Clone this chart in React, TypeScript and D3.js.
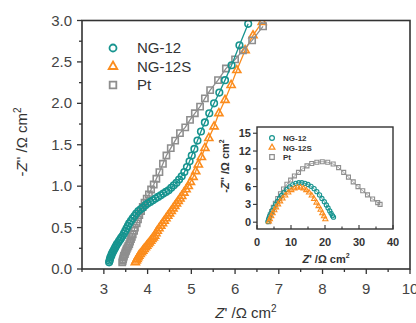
import React from 'react';
import * as d3 from 'd3';

// ---------- Main chart data ----------
const ng12X = [3.12, 3.13, 3.14, 3.15, 3.17, 3.18, 3.2, 3.22, 3.24, 3.26, 3.28, 3.3, 3.33, 3.35, 3.38, 3.4, 3.43, 3.46, 3.49, 3.52, 3.55, 3.58, 3.62, 3.66, 3.7, 3.74, 3.79, 3.84, 3.89, 3.95, 4.0, 4.06, 4.12, 4.18, 4.24, 4.3, 4.36, 4.42, 4.48, 4.54, 4.6, 4.66, 4.72, 4.78, 4.84, 4.9, 4.96, 5.01, 5.07, 5.14, 5.22, 5.31, 5.41, 5.52, 5.64, 5.77, 5.92, 6.1, 6.3];
const ng12Y = [0.08, 0.1, 0.12, 0.14, 0.16, 0.18, 0.2, 0.22, 0.24, 0.26, 0.28, 0.3, 0.32, 0.34, 0.36, 0.38, 0.4, 0.43, 0.46, 0.49, 0.52, 0.55, 0.58, 0.61, 0.64, 0.67, 0.7, 0.72, 0.74, 0.77, 0.79, 0.81, 0.83, 0.85, 0.87, 0.89, 0.91, 0.93, 0.95, 0.98, 1.01, 1.04, 1.08, 1.12, 1.17, 1.23, 1.3, 1.37, 1.45, 1.55, 1.66, 1.77, 1.88, 2.0, 2.13, 2.28, 2.46, 2.7, 2.96];

const ng12sX = [3.72, 3.74, 3.76, 3.78, 3.8, 3.83, 3.86, 3.89, 3.92, 3.95, 3.98, 4.01, 4.04, 4.07, 4.1, 4.13, 4.16, 4.19, 4.22, 4.26, 4.3, 4.34, 4.38, 4.42, 4.46, 4.5, 4.54, 4.58, 4.62, 4.66, 4.7, 4.74, 4.78, 4.83, 4.88, 4.93, 4.98, 5.04, 5.1, 5.16, 5.23, 5.31, 5.4, 5.52, 5.63, 5.77, 5.91, 6.04, 6.23, 6.41, 6.62];
const ng12sY = [0.08, 0.1, 0.12, 0.14, 0.16, 0.18, 0.2, 0.22, 0.24, 0.26, 0.28, 0.3, 0.32, 0.34, 0.36, 0.38, 0.4, 0.43, 0.46, 0.49, 0.52, 0.55, 0.58, 0.61, 0.64, 0.67, 0.7, 0.73, 0.76, 0.79, 0.82, 0.85, 0.88, 0.92, 0.96, 1.0, 1.05, 1.11, 1.18, 1.26, 1.35, 1.46, 1.58, 1.72, 1.88, 2.04, 2.22, 2.4, 2.64, 2.82, 2.98];

const ptX = [3.42, 3.43, 3.44, 3.45, 3.46, 3.48, 3.49, 3.51, 3.52, 3.54, 3.56, 3.58, 3.6, 3.62, 3.64, 3.66, 3.69, 3.71, 3.75, 3.78, 3.81, 3.85, 3.89, 3.93, 3.98, 4.03, 4.08, 4.14, 4.2, 4.27, 4.35, 4.43, 4.53, 4.63, 4.74, 4.86, 4.97, 5.08, 5.2, 5.31, 5.43, 5.61, 5.79, 6.0, 6.18, 6.39, 6.64];
const ptY = [0.08, 0.1, 0.12, 0.14, 0.16, 0.18, 0.2, 0.22, 0.24, 0.26, 0.28, 0.3, 0.33, 0.36, 0.39, 0.42, 0.46, 0.5, 0.55, 0.6, 0.65, 0.7, 0.75, 0.8, 0.85, 0.9, 0.96, 1.02, 1.09, 1.17, 1.27, 1.37, 1.46, 1.55, 1.64, 1.71, 1.8, 1.88, 1.96, 2.06, 2.16, 2.28, 2.42, 2.53, 2.64, 2.76, 2.93];

const xTicks = [3, 4, 5, 6, 7, 8, 9, 10];
const yTicks = [0, 0.5, 1.0, 1.5, 2.0, 2.5, 3.0];

// ---------- Inset data ----------
const inNg12X = [3.2, 3.4, 3.7, 4.1, 4.5, 5.0, 5.5, 6.0, 6.6, 7.2, 7.9, 8.7, 9.6, 10.5, 11.4, 12.3, 13.2, 14.1, 15.0, 15.9, 16.8, 17.6, 18.4, 19.1, 19.8, 20.4, 20.9, 21.4, 21.8, 22.2, 22.5];
const inNg12Y = [0.1, 0.5, 1.0, 1.5, 2.0, 2.5, 3.0, 3.5, 4.0, 4.5, 5.0, 5.5, 5.95, 6.3, 6.55, 6.65, 6.65, 6.55, 6.35, 6.05, 5.65, 5.15, 4.6, 4.0, 3.45, 2.9, 2.4, 1.9, 1.5, 1.1, 0.85];

const inNg12sX = [3.5, 3.8, 4.2, 4.6, 5.1, 5.6, 6.2, 6.8, 7.5, 8.3, 9.2, 10.1, 11.0, 11.9, 12.8, 13.7, 14.5, 15.3, 16.1, 16.8, 17.5, 18.1, 18.7, 19.2, 19.7, 20.1];
const inNg12sY = [0.1, 0.5, 1.0, 1.5, 2.0, 2.5, 3.0, 3.5, 4.0, 4.5, 5.0, 5.4, 5.7, 5.85, 5.85, 5.7, 5.4, 5.0, 4.5, 3.9, 3.3, 2.7, 2.1, 1.5, 1.0, 0.5];

const inPtX = [3.4, 3.6, 3.9, 4.3, 4.8, 5.4, 6.1, 6.9, 7.8, 8.8, 9.9, 11.0, 12.2, 13.4, 14.7, 16.1, 17.6, 19.2, 20.8, 22.4, 24.0, 25.5, 26.9, 28.3, 29.7, 31.1, 32.5, 34.0, 35.5, 36.2];
const inPtY = [0.1, 0.6, 1.2, 1.8, 2.5, 3.2, 4.0, 4.8, 5.6, 6.4, 7.1, 7.8, 8.4, 9.0, 9.5, 9.9, 10.1, 10.2, 10.1, 9.8, 9.2, 8.4, 7.6, 6.8, 6.0, 5.3, 4.6, 3.9, 3.3, 3.0];

const inXTicks = [0, 10, 20, 30, 40];
const inYTicks = [0, 3, 6, 9, 12, 15];

const seriesNames = ['NG-12', 'NG-12S', 'Pt'];

const TEAL = '#17948f';
const ORANGE = '#fb8c1d';
const GRAY = '#8e8e8e';
const AXIS = '#333';
const FONT = 'Liberation Sans, Arial, sans-serif';

type Kind = 'circle' | 'triangle' | 'square';

function Marker({ kind, x, y, s, color, sw }: { kind: Kind; x: number; y: number; s: number; color: string; sw: number }) {
  if (kind === 'circle') return <circle cx={x} cy={y} r={s} fill="none" stroke={color} strokeWidth={sw} />;
  const sym = kind === 'triangle' ? d3.symbolTriangle : d3.symbolSquare;
  const area = kind === 'triangle' ? s * s * 2.6 : s * s * 3.6;
  const d = d3.symbol(sym, area)() as string;
  return <path d={d} transform={`translate(${x},${y})`} fill="none" stroke={color} strokeWidth={sw} />;
}

export default function App() {
  // main scales
  const x = d3.scaleLinear().domain([2.5, 10]).range([82, 410]);
  const y = d3.scaleLinear().domain([0, 3]).range([269, 20.5]);
  // inset scales
  const ix = d3.scaleLinear().domain([0, 40]).range([257, 393]);
  const iy = d3.scaleLinear().domain([-1.15, 16.05]).range([229, 127]);

  const mainSeries = [
    { xs: ng12sX, ys: ng12sY, color: ORANGE, kind: 'triangle' as Kind },
    { xs: ptX, ys: ptY, color: GRAY, kind: 'square' as Kind },
    { xs: ng12X, ys: ng12Y, color: TEAL, kind: 'circle' as Kind },
  ];
  const insetSeries = [
    { xs: inPtX, ys: inPtY, color: GRAY, kind: 'square' as Kind },
    { xs: inNg12X, ys: inNg12Y, color: TEAL, kind: 'circle' as Kind },
    { xs: inNg12sX, ys: inNg12sY, color: ORANGE, kind: 'triangle' as Kind },
  ];
  const legendKinds: Kind[] = ['circle', 'triangle', 'square'];
  const legendColors = [TEAL, ORANGE, GRAY];

  const xMinor = d3.range(2.5, 10.01, 0.5);
  const yMinor = d3.range(0, 3.01, 0.25);
  const ixMinor = d3.range(0, 40.01, 5);

  const mkLine = (sx: any, sy: any) =>
    d3.line<[number, number]>().x(d => sx(d[0])).y(d => sy(d[1]));

  return (
    <svg width={416} height={323} style={{ position: 'absolute', left: 0, top: 0, background: '#fff' }} fontFamily={FONT}>
      <rect x={0} y={0} width={416} height={323} fill="#fff" />
      <defs>
        <clipPath id="mainClip">
          <rect x={82} y={20.5} width={328} height={248.5} />
        </clipPath>
      </defs>

      {/* main data */}
      <g clipPath="url(#mainClip)">
        {mainSeries.map((s, i) => {
          const pts = s.xs.map((v, k) => [v, s.ys[k]] as [number, number]);
          return (
            <g key={i}>
              <path d={mkLine(x, y)(pts) as string} fill="none" stroke={s.color} strokeWidth={1.3} />
              {pts.map((p, k) => (
                <Marker key={k} kind={s.kind} x={x(p[0])} y={y(p[1])} s={3.3} color={s.color} sw={1.6} />
              ))}
            </g>
          );
        })}
      </g>

      {/* main frame */}
      <rect x={82} y={20.5} width={328} height={248.5} fill="none" stroke={AXIS} strokeWidth={1.6} />

      {/* main x ticks */}
      {xMinor.map((v, i) => (
        <line key={'xm' + i} x1={x(v)} x2={x(v)} y1={269} y2={Number.isInteger(v) ? 274 : 272} stroke={AXIS} strokeWidth={1.3} />
      ))}
      {xTicks.map(v => (
        <text key={'xt' + v} x={x(v)} y={294} textAnchor="middle" fontSize={15} fill="#444">{v}</text>
      ))}
      {/* main y ticks */}
      {yMinor.map((v, i) => (
        <line key={'ym' + i} x1={Math.abs(v * 2 - Math.round(v * 2)) < 1e-6 ? 77 : 79} x2={82} y1={y(v)} y2={y(v)} stroke={AXIS} strokeWidth={1.3} />
      ))}
      {yTicks.map(v => (
        <text key={'yt' + v} x={72} y={y(v) + 5} textAnchor="end" fontSize={15} fill="#444">{v.toFixed(1)}</text>
      ))}

      {/* axis titles */}
      <text x={246} y={318} textAnchor="middle" fontSize={15} fill="#333">
        <tspan fontStyle="italic">Z</tspan>
        <tspan>' /Ω cm</tspan>
        <tspan fontSize={10} dy={-6}>2</tspan>
      </text>
      <text transform="translate(27,142) rotate(-90)" textAnchor="middle" fontSize={15} fill="#333">
        <tspan>-</tspan>
        <tspan fontStyle="italic">Z</tspan>
        <tspan>'' /Ω cm</tspan>
        <tspan fontSize={10} dy={-6}>2</tspan>
      </text>

      {/* main legend */}
      {seriesNames.map((n, i) => (
        <g key={'lg' + i}>
          <Marker kind={legendKinds[i]} x={113} y={48 + i * 18.5} s={3.5} color={legendColors[i]} sw={1.8} />
          <text x={137} y={48 + i * 18.5 + 5} fontSize={15} fill="#333">{n}</text>
        </g>
      ))}

      {/* ---------- inset ---------- */}
      <rect x={257} y={127} width={136} height={102} fill="#fff" stroke={AXIS} strokeWidth={1.4} />
      {insetSeries.map((s, i) => {
        const pts = s.xs.map((v, k) => [v, s.ys[k]] as [number, number]);
        return (
          <g key={'in' + i}>
            <path d={mkLine(ix, iy)(pts) as string} fill="none" stroke={s.color} strokeWidth={0.8} />
            {pts.map((p, k) => (
              <Marker key={k} kind={s.kind} x={ix(p[0])} y={iy(p[1])} s={2.1} color={s.color} sw={1.1} />
            ))}
          </g>
        );
      })}
      {ixMinor.map((v, i) => (
        <line key={'ixm' + i} x1={ix(v)} x2={ix(v)} y1={229} y2={v % 10 === 0 ? 225 : 226.5} stroke={AXIS} strokeWidth={1.1} />
      ))}
      {inXTicks.map(v => (
        <text key={'ixt' + v} x={ix(v)} y={246} textAnchor="middle" fontSize={11} fontWeight="bold" fill="#333">{v}</text>
      ))}
      {inYTicks.map(v => (
        <g key={'iyt' + v}>
          <line x1={253} x2={257} y1={iy(v)} y2={iy(v)} stroke={AXIS} strokeWidth={1.1} />
          <text x={251} y={iy(v) + 4} textAnchor="end" fontSize={11} fontWeight="bold" fill="#333">{v}</text>
        </g>
      ))}
      <text x={326} y={263} textAnchor="middle" fontSize={11} fontWeight="bold" fill="#333">
        <tspan fontStyle="italic">Z</tspan>
        <tspan>' /Ω cm</tspan>
        <tspan fontSize={7} dy={-5}>2</tspan>
      </text>
      <text transform="translate(229,166) rotate(-90)" textAnchor="middle" fontSize={11} fontWeight="bold" fill="#333">
        <tspan>-</tspan>
        <tspan fontStyle="italic">Z</tspan>
        <tspan>'' /Ω cm</tspan>
        <tspan fontSize={7} dy={-5}>2</tspan>
      </text>
      {seriesNames.map((n, i) => (
        <g key={'ilg' + i}>
          <Marker kind={legendKinds[i]} x={272} y={138 + i * 9.5} s={2.4} color={legendColors[i]} sw={1.2} />
          <text x={283} y={138 + i * 9.5 + 3} fontSize={8} fontWeight="bold" fill="#333">{n}</text>
        </g>
      ))}
    </svg>
  );
}
